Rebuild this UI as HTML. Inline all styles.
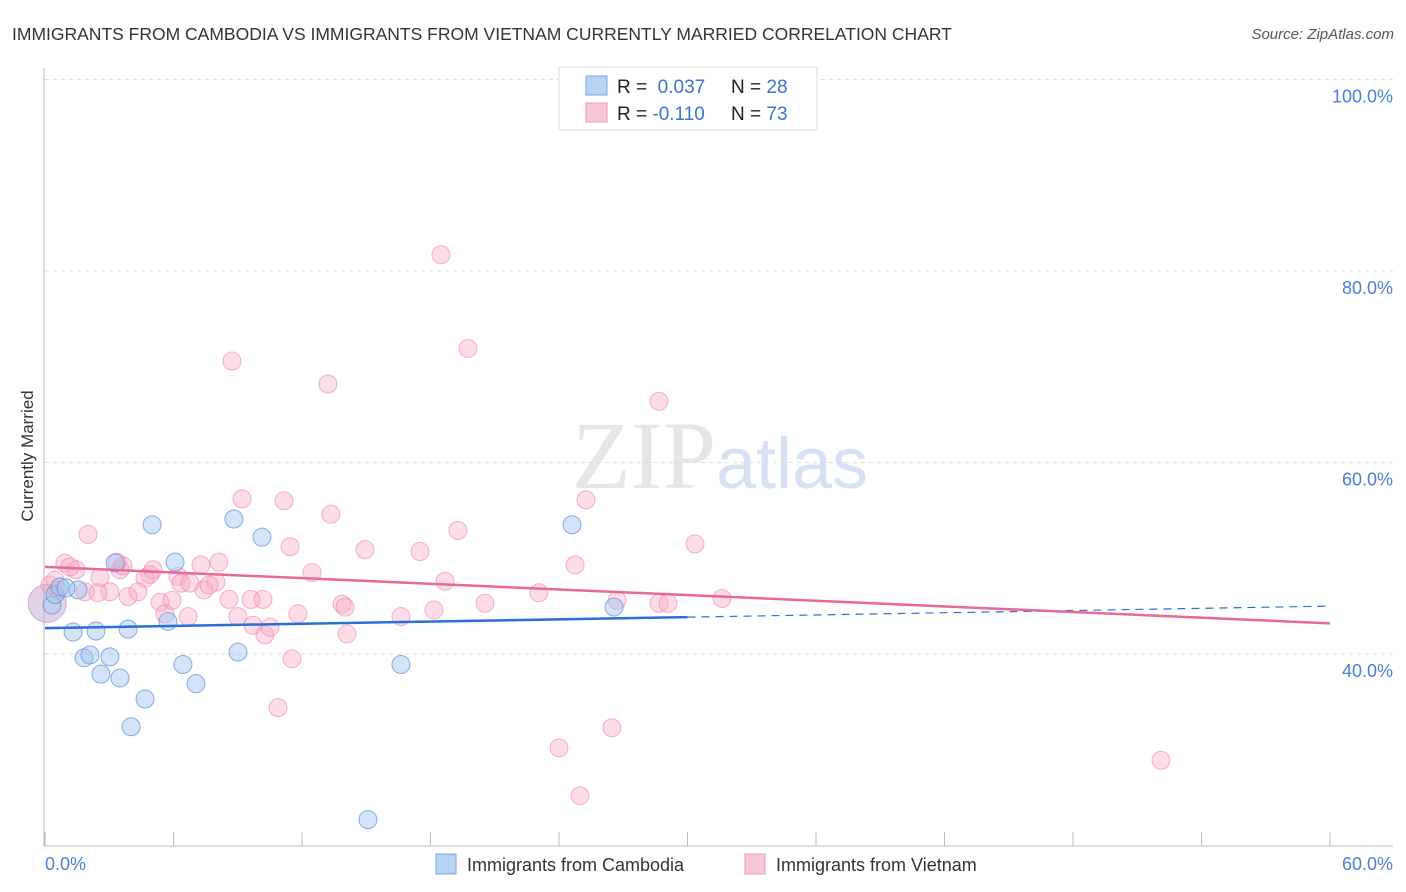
<!DOCTYPE html>
<html><head><meta charset="utf-8"><style>
body{margin:0;background:#fff;font-family:"Liberation Sans",sans-serif;}
svg{display:block}
</style></head><body>
<svg id="chart" width="1406" height="892">
<text x="12" y="40" font-size="17.5" fill="#333">IMMIGRANTS FROM CAMBODIA VS IMMIGRANTS FROM VIETNAM CURRENTLY MARRIED CORRELATION CHART</text>
<text x="1394" y="39" font-size="15" fill="#555" font-style="italic" text-anchor="end">Source: ZipAtlas.com</text>
<text x="720" y="488" font-size="96" fill="#e6e6e6" text-anchor="middle" font-family="Liberation Serif,serif">ZIP<tspan fill="#d6e2f3" font-family="Liberation Sans,sans-serif" font-size="72">atlas</tspan></text>
<text transform="translate(33,456) rotate(-90)" font-size="17" fill="#333" text-anchor="middle">Currently Married</text>
<g id="grid"></g><g id="axes"></g><g id="pts"></g><g id="trend"></g>
<g>
<rect x="559" y="67" width="258" height="63" fill="#fff" stroke="#ddd"/>
<rect x="586" y="76" width="21" height="19" fill="#b8d2f4" stroke="#7aa7e6"/>
<rect x="586" y="103" width="21" height="19" fill="#f9c8d6" stroke="#ee9ab3"/>
<text x="617" y="93" font-size="19" fill="#222">R = <tspan fill="#3b73d1">&#160;0.037</tspan></text>
<text x="731" y="93" font-size="19" fill="#222">N = <tspan fill="#3b73d1">28</tspan></text>
<text x="617" y="120" font-size="19" fill="#222">R = <tspan fill="#3b73d1">-0.110</tspan></text>
<text x="731" y="120" font-size="19" fill="#222">N = <tspan fill="#3b73d1">73</tspan></text>
</g>
<g>
<rect x="436" y="854" width="20" height="20" fill="#b8d2f4" stroke="#7aa7e6"/>
<text x="467" y="871" font-size="18" fill="#333">Immigrants from Cambodia</text>
<rect x="745" y="854" width="20" height="20" fill="#f9c8d6" stroke="#ee9ab3"/>
<text x="776" y="871" font-size="18" fill="#333">Immigrants from Vietnam</text>
</g>
</svg>
<script>
const camX=[0.33,0.47,0.70,1.54,0.98,3.27,5.00,1.31,2.38,3.88,1.82,2.10,3.03,2.61,3.50,4.67,4.02,6.07,5.74,6.44,7.05,8.82,10.13,9.01,16.62,15.08,24.61,26.57];
const camY=[45.1,46.2,47.0,46.7,46.9,49.5,53.5,42.3,42.4,42.6,39.6,39.9,39.7,37.9,37.5,35.3,32.4,49.6,43.4,38.9,36.9,54.1,52.2,40.2,38.9,22.7,53.5,44.9];
const vieX=[18.49,19.75,8.73,13.21,28.67,9.20,11.16,25.26,13.35,19.28,2.01,30.35,11.44,14.94,17.51,24.75,0.93,1.45,2.57,3.50,4.90,6.21,7.28,8.12,4.67,12.47,18.68,7.98,6.35,7.42,3.03,1.87,3.88,4.34,5.37,5.93,8.59,9.62,23.06,31.61,28.67,29.09,20.54,26.71,13.87,14.01,0.23,0.61,11.81,6.68,5.60,9.01,16.62,18.16,9.71,10.27,10.51,14.10,11.53,10.88,24.00,26.47,24.98,52.11,6.77,2.47,3.64,5.04,0.47,1.17,7.66,10.18,3.36];
const vieY=[81.7,71.9,70.6,68.2,66.4,56.2,56.0,56.1,54.6,52.9,52.5,51.5,51.2,50.9,50.7,49.3,49.5,48.8,48.0,48.8,48.3,48.1,49.3,49.6,47.9,48.5,47.6,47.5,47.4,46.7,46.5,46.5,46.0,46.5,45.4,45.6,45.7,45.7,46.4,45.8,45.3,45.3,45.3,45.6,45.2,44.9,47.2,46.7,44.2,43.9,44.2,43.9,43.9,44.6,43.0,42.0,42.8,42.1,39.5,34.4,30.2,32.3,25.2,28.9,47.4,46.4,49.2,48.8,47.7,49.1,47.2,45.7,49.6];
const yTicks=[40,60,80,100];
const yTickLabels=["40.0%","60.0%","80.0%","100.0%"];
const camTrend=[42.7,45.0];
const vieTrend=[49.1,43.2];
const camSolidEnd=30;
const NS="http://www.w3.org/2000/svg";
const X0=45,X1=1330;
const sx=v=>X0+(X1-X0)*v/60;
const sy=v=>1037-v*9.575;
function mk(tag,attrs,parent){const e=document.createElementNS(NS,tag);for(const k in attrs)e.setAttribute(k,attrs[k]);parent.appendChild(e);return e;}
const grid=document.getElementById('grid'),axes=document.getElementById('axes'),pts=document.getElementById('pts'),trend=document.getElementById('trend');
yTicks.forEach((t,i)=>{
 const l=mk('line',{x1:45,x2:1393,y1:sy(t),y2:sy(t),stroke:'#ddd','stroke-dasharray':'4,4'},grid);
 
 
 const tx=mk('text',{x:1393,y:sy(t)+23,'font-size':18,fill:'#4a7fd4','text-anchor':'end'},axes);
 tx.textContent=yTickLabels[i];
 
 
});
const ax=mk('line',{x1:44,x2:44,y1:68,y2:846,stroke:'#bbb'},axes);


const bx=mk('line',{x1:44,x2:1393,y1:846,y2:846,stroke:'#bbb'},axes);


for(let i=0;i<=10;i++){const v=i*6;const t=mk('line',{x1:sx(v),x2:sx(v),y1:832,y2:846,stroke:'#bbb'},axes);
 
 }
[["0.0%",45,'start'],["60.0%",1393,'end']].forEach(a=>{const t=mk('text',{x:a[1],y:870,'font-size':18,fill:'#4a7fd4','text-anchor':a[2]},axes);t.textContent=a[0];
 
 });
const big=mk('circle',{cx:sx(0.1),cy:sy(45.3),r:19,fill:'rgba(190,160,200,0.45)',stroke:'rgba(170,140,190,0.6)'},pts);


vieX.forEach((x,i)=>{const c=mk('circle',{cx:sx(x),cy:sy(vieY[i]),r:9,fill:'rgba(247,170,195,0.4)',stroke:'rgba(236,130,165,0.6)','stroke-width':1},pts);
 
 });
camX.forEach((x,i)=>{const c=mk('circle',{cx:sx(x),cy:sy(camY[i]),r:9,fill:'rgba(160,195,240,0.45)',stroke:'rgba(90,140,215,0.7)','stroke-width':1},pts);
 
 });
const cy=v=>camTrend[0]+(camTrend[1]-camTrend[0])*v/60;
const l1=mk('line',{x1:sx(0),y1:sy(cy(0)),x2:sx(camSolidEnd),y2:sy(cy(camSolidEnd)),stroke:'#2a6fd6','stroke-width':2.5},trend);


const l2=mk('line',{x1:sx(camSolidEnd),y1:sy(cy(camSolidEnd)),x2:sx(60),y2:sy(cy(60)),stroke:'#2a6fd6','stroke-width':1.2,'stroke-dasharray':'8,6'},trend);


const l3=mk('line',{x1:sx(0),y1:sy(vieTrend[0]),x2:sx(60),y2:sy(vieTrend[1]),stroke:'#e8689a','stroke-width':2.5},trend);


</script>
</body></html>
